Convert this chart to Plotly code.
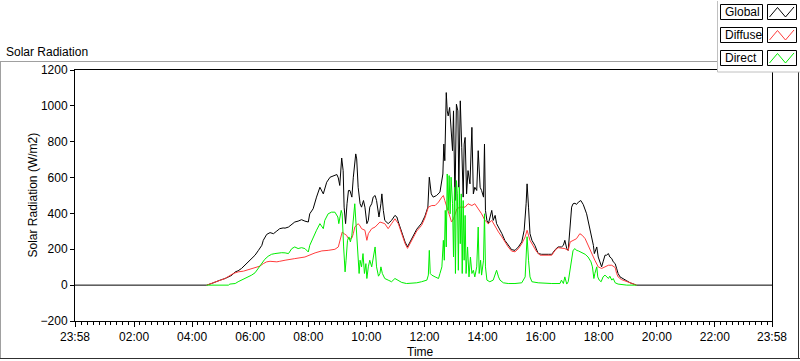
import plotly.graph_objects as go

# ---------------- data (time in minutes after midnight; -2 = 23:58 of previous day) ----------------
global_min = [-2, 270, 280, 287, 298, 308, 315, 322, 329, 335,
              342, 349, 356, 363, 370, 377, 384, 387, 394, 401,
              408, 415, 421, 428, 432, 439, 446, 452, 459, 466,
              473, 480, 483, 490, 497, 504, 511, 518, 525, 532,
              539, 542, 545, 549, 552, 554, 557, 560, 563, 566,
              570, 573, 578, 580, 583, 587, 590, 594, 597, 601,
              604, 607, 611, 614, 618, 621, 626, 630, 632, 635,
              638, 645, 652, 659, 663, 666, 673, 680, 685, 690,
              697, 704, 714, 721, 727, 730, 734, 738, 745, 752,
              758, 760, 762, 765, 767, 769, 772, 775, 778, 780,
              783, 786, 789, 791, 794, 797, 800, 802, 804, 807,
              810, 814, 818, 821, 824, 828, 831, 835, 838, 842,
              844, 846, 849, 852, 855, 859, 862, 866, 869, 873,
              880, 886, 893, 900, 907, 914, 921, 926, 930, 932,
              935, 938, 942, 948, 955, 962, 976, 983, 990, 996,
              1003, 1007, 1010, 1014, 1017, 1021, 1024, 1027, 1031, 1034,
              1038, 1043, 1048, 1055, 1058, 1062, 1065, 1069, 1071, 1074,
              1076, 1079, 1083, 1086, 1089, 1093, 1096, 1100, 1103, 1107,
              1110, 1114, 1117, 1120, 1124, 1131, 1138, 1145, 1151, 1158,
              1438]
global_val = [0, 0, 9, 18, 28, 37, 46, 55, 74, 80,
              93, 111, 130, 148, 167, 194, 222, 250, 283, 293,
              287, 302, 315, 319, 318, 324, 339, 352, 357, 365,
              357, 352, 398, 426, 491, 546, 509, 574, 602, 611,
              617, 598, 556, 709, 639, 435, 343, 454, 528, 528,
              491, 602, 732, 704, 546, 454, 435, 472, 435, 343,
              361, 435, 454, 491, 500, 472, 380, 454, 509, 417,
              361, 343, 361, 389, 380, 352, 296, 240, 214, 240,
              280, 312, 345, 385, 435, 602, 509, 491, 500, 519,
              620, 787, 694, 1074, 972, 944, 991, 880, 750, 972,
              472, 1009, 972, 546, 1028, 769, 491, 787, 824, 509,
              639, 565, 880, 509, 546, 528, 750, 546, 528, 491,
              787, 417, 361, 343, 380, 417, 361, 389, 343, 324,
              287, 250, 222, 198, 194, 213, 241, 306, 454, 565,
              435, 287, 250, 222, 176, 172, 172, 172, 198, 213,
              213, 222, 250, 204, 194, 343, 435, 454, 457, 450,
              463, 472, 450, 398, 361, 306, 269, 222, 176, 204,
              213, 157, 117, 102, 130, 167, 167, 176, 157, 148,
              130, 120, 93, 65, 46, 37, 24, 13, 6, 0,
              0]

diffuse_min = [270, 280, 298, 308, 325, 335, 346, 356, 366,
               373, 380, 387, 394, 401, 408, 415, 421, 428, 432,
               452, 473, 494, 508, 521, 535, 542, 545, 550, 554,
               559, 563, 566, 570, 573, 576, 580, 583, 587, 590,
               597, 601, 604, 611, 618, 628, 638, 645, 652, 659,
               666, 673, 680, 685, 690, 697, 704, 714, 721, 728,
               735, 742, 749, 756, 759, 762, 769, 776, 780, 787,
               793, 804, 810, 818, 824, 831, 838, 845, 852, 859,
               866, 873, 880, 886, 893, 900, 907, 914, 921, 928,
               932, 938, 945, 952, 959, 983, 990, 996, 1010, 1017,
               1021, 1027, 1034, 1041, 1046, 1052, 1058, 1065, 1072, 1079,
               1086, 1093, 1100, 1107, 1114, 1117, 1120, 1127, 1138, 1148,
               1158]
diffuse_val = [0, 9, 28, 37, 65, 74, 78, 87, 93,
               102, 106, 120, 130, 133, 130, 130, 133, 139, 139,
               148, 157, 180, 191, 194, 200, 213, 250, 296, 287,
               278, 259, 256, 263, 287, 324, 333, 343, 330, 315,
               306, 250, 287, 315, 324, 352, 343, 315, 343, 370,
               343, 287, 231, 205, 229, 269, 302, 333, 375, 435,
               444, 444, 463, 491, 500, 472, 417, 352, 370, 426,
               435, 435, 454, 444, 454, 426, 398, 361, 343, 361,
               324, 296, 269, 241, 213, 190, 186, 203, 231, 269,
               306, 250, 213, 185, 167, 167, 195, 209, 204, 194,
               241, 250, 259, 287, 278, 259, 222, 176, 139, 102,
               93, 102, 111, 111, 98, 65, 46, 31, 19, 9,
               0]

direct_min = [270, 315, 318, 329, 335, 342, 349, 356, 363,
              370, 377, 384, 390, 397, 404, 411, 418, 425, 432,
              439, 446, 452, 459, 466, 473, 480, 483, 490, 497,
              504, 511, 514, 521, 528, 535, 541, 543, 548, 550,
              553, 556, 558, 561, 564, 567, 570, 573, 576, 579,
              582, 585, 587, 590, 593, 596, 599, 601, 604, 607,
              611, 614, 618, 621, 625, 628, 630, 633, 638, 645,
              652, 659, 666, 673, 683, 694, 704, 714, 725, 728,
              730, 732, 735, 742, 749, 752, 756, 759, 761, 763,
              765, 767, 769, 771, 773, 775, 778, 780, 782, 784,
              786, 788, 790, 792, 794, 796, 798, 800, 802, 804,
              806, 809, 812, 815, 818, 821, 824, 828, 831, 833,
              836, 838, 842, 844, 846, 849, 855, 862, 866, 869,
              873, 876, 883, 893, 907, 921, 928, 930, 932, 935,
              938, 942, 955, 983, 1000, 1003, 1007, 1010, 1014, 1017,
              1021, 1024, 1027, 1031, 1034, 1038, 1045, 1052, 1058, 1064,
              1067, 1070, 1072, 1076, 1078, 1081, 1085, 1089, 1093, 1096,
              1100, 1103, 1107, 1110, 1114, 1120, 1127, 1138, 1158]
direct_val = [0, 0, 6, 9, 19, 28, 37, 46, 56,
              69, 93, 117, 144, 161, 172, 176, 180, 181, 180,
              176, 204, 213, 204, 209, 204, 185, 222, 269, 306,
              343, 315, 361, 398, 407, 407, 380, 343, 417, 398,
              213, 74, 139, 250, 269, 241, 278, 361, 454, 324,
              176, 65, 139, 102, 176, 65, 120, 37, 102, 139,
              102, 157, 213, 102, 50, 65, 102, 65, 37, 28,
              19, 37, 24, 15, 9, 9, 13, 19, 28, 56,
              194, 65, 56, 46, 37, 65, 102, 250, 139, 417,
              213, 620, 417, 611, 398, 602, 454, 157, 546, 65,
              583, 509, 83, 546, 231, 509, 65, 472, 139, 389,
              65, 213, 46, 157, 65, 83, 46, 102, 324, 65,
              139, 56, 139, 398, 102, 28, 19, 28, 65, 83,
              46, 28, 13, 9, 9, 13, 46, 176, 270, 139,
              46, 19, 13, 9, 9, 28, 9, 46, 6, 19,
              102, 157, 194, 204, 194, 191, 180, 172, 157, 130,
              102, 37, 65, 102, 46, 28, 19, 46, 56, 50,
              37, 50, 28, 37, 13, 6, 4, 0, 0]

tick_minutes = [-2, 120, 240, 360, 480, 600, 720, 840, 960, 1080, 1200, 1320, 1438]
tick_labels = ["23:58", "02:00", "04:00", "06:00", "08:00", "10:00", "12:00",
               "14:00", "16:00", "18:00", "20:00", "22:00", "23:58"]
series_names = ["Global", "Diffuse", "Direct"]
series_colors = ["#000000", "#FF3C3C", "#00EE00"]

# ---------------- figure geometry ----------------
W, H = 800, 361
L, R, T, B = 75, 28, 70, 40
PW, PH = W - L - R, H - T - B
FONT = "Liberation Sans"


def px(x):
    return (x - L) / PW


def py(y):
    return 1 - (y - T) / PH


fig = go.Figure()
for name, tx, vals, col in [
    ("Global", global_min, global_val, series_colors[0]),
    ("Diffuse", diffuse_min, diffuse_val, series_colors[1]),
    ("Direct", direct_min, direct_val, series_colors[2]),
]:
    fig.add_trace(go.Scatter(x=tx, y=vals, mode="lines", name=name,
                             line=dict(color=col, width=1), hoverinfo="skip"))

shapes = []
# outer frame (recessed look)
shapes.append(dict(type="line", xref="paper", yref="paper", x0=px(0), x1=px(717.5),
                   y0=py(61.5), y1=py(61.5), line=dict(color="#A0A0A0", width=1)))
shapes.append(dict(type="line", xref="paper", yref="paper", x0=px(0.5), x1=px(0.5),
                   y0=py(61.5), y1=py(359), line=dict(color="#A0A0A0", width=1)))
shapes.append(dict(type="line", xref="paper", yref="paper", x0=px(0), x1=px(800),
                   y0=py(358.5), y1=py(358.5), line=dict(color="#303030", width=1)))
shapes.append(dict(type="line", xref="paper", yref="paper", x0=px(798.5), x1=px(798.5),
                   y0=py(72), y1=py(359), line=dict(color="#303030", width=1)))
# legend panel
shapes.append(dict(type="rect", xref="paper", yref="paper", x0=px(717.5), x1=px(800),
                   y0=py(0), y1=py(72), fillcolor="white", line=dict(width=0), layer="above"))
shapes.append(dict(type="line", xref="paper", yref="paper", x0=px(717.5), x1=px(717.5),
                   y0=py(1), y1=py(72), line=dict(color="#C0C0C0", width=1), layer="above"))
shapes.append(dict(type="line", xref="paper", yref="paper", x0=px(717.5), x1=px(800),
                   y0=py(72), y1=py(72), line=dict(color="#C0C0C0", width=1), layer="above"))

annotations = []
row_tops = [4.5, 27.5, 50.5]
for name, col, top in zip(series_names, series_colors, row_tops):
    shapes.append(dict(type="rect", xref="paper", yref="paper", x0=px(720.5), x1=px(762.5),
                       y0=py(top), y1=py(top + 15), line=dict(color="black", width=1),
                       fillcolor="white", layer="above"))
    shapes.append(dict(type="rect", xref="paper", yref="paper", x0=px(767.5), x1=px(796.5),
                       y0=py(top), y1=py(top + 15), line=dict(color="black", width=1),
                       fillcolor="white", layer="above"))
    zz = [(769.5, top + 12.5), (777.5, top + 3), (785.5, top + 12.5), (794, top + 2.5)]
    path = "M " + " L ".join(f"{px(a):.5f},{py(b):.5f}" for a, b in zz)
    shapes.append(dict(type="path", xref="paper", yref="paper", path=path,
                       line=dict(color=col, width=1), layer="above"))
    annotations.append(dict(text=name, xref="paper", yref="paper", x=px(723), y=py(top + 7.5),
                            xanchor="left", yanchor="middle", showarrow=False,
                            font=dict(family=FONT, size=12, color="black")))

annotations.append(dict(text="Solar Radiation", xref="paper", yref="paper", x=px(4), y=py(51.5),
                        xanchor="left", yanchor="middle", showarrow=False,
                        font=dict(family=FONT, size=12, color="black")))
annotations.append(dict(text="Solar Radiation (W/m2)", xref="paper", yref="paper", x=px(32),
                        y=0.5, xanchor="center", yanchor="middle", textangle=-90, showarrow=False,
                        font=dict(family=FONT, size=12, color="black")))
annotations.append(dict(text="Time", xref="paper", yref="paper", x=px(420), y=py(352),
                        xanchor="center", yanchor="middle", showarrow=False,
                        font=dict(family=FONT, size=12, color="black")))

fig.update_layout(
    width=W, height=H, autosize=False,
    margin=dict(l=L, r=R, t=T, b=B, autoexpand=False),
    paper_bgcolor="white", plot_bgcolor="white",
    showlegend=False,
    font=dict(family=FONT, size=12, color="black"),
    shapes=shapes, annotations=annotations,
    xaxis=dict(range=[-2, 1438], tickmode="array", tickvals=tick_minutes, ticktext=tick_labels,
               ticks="outside", ticklen=5, tickwidth=1, tickcolor="black",
               showline=True, linecolor="black", linewidth=1, mirror=True,
               showgrid=False, zeroline=False,
               tickfont=dict(family=FONT, size=12, color="black"),
               minor=dict(ticks="outside", ticklen=3, tickcolor="black", tick0=0, dtick=12,
                          showgrid=False)),
    yaxis=dict(range=[-200, 1200], tickmode="linear", tick0=-200, dtick=200,
               ticks="outside", ticklen=4, tickwidth=1, tickcolor="black",
               showline=True, linecolor="black", linewidth=1, mirror=True,
               showgrid=False, zeroline=False,
               tickfont=dict(family=FONT, size=12, color="black")),
)

fig.write_html("out.html", config={"displayModeBar": False},
               post_script="document.body.style.margin='0';document.body.style.padding='0';"
                           "document.body.style.overflow='hidden';")
